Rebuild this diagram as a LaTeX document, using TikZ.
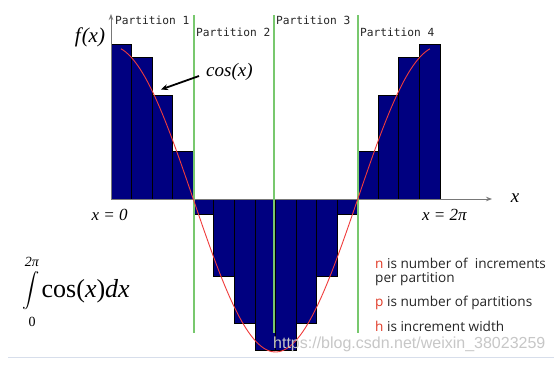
\documentclass[tikz,border=0pt]{standalone}
\usepackage{fontspec}
\usepackage{graphicx}
\usetikzlibrary{arrows.meta}
\newfontfamily\pmono{DejaVu Sans Mono}
\newfontfamily\pserif{Liberation Serif}
\newfontfamily\psans{Open Sans}
\newfontfamily\pwm{Liberation Sans}
\definecolor{barfill}{RGB}{0,0,128}
\definecolor{partgreen}{RGB}{120,200,110}
\definecolor{curvered}{RGB}{240,60,60}
\definecolor{letterred}{RGB}{225,60,40}
\definecolor{axisgray}{RGB}{120,120,120}
\tikzset{
  bar/.style={fill=barfill,draw=black,line width=0.8pt},
  partline/.style={draw=partgreen,line width=1.4pt},
  partlabel/.style={anchor=west,inner sep=0pt,font=\pmono\fontsize{11.2}{12}\selectfont,text=black!85},
  mathlabel/.style={inner sep=0pt,font=\pserif\itshape\fontsize{17}{20}\selectfont},
  notetext/.style={anchor=west,inner sep=0pt,font=\psans\fontsize{13.6}{15}\selectfont,text=black!85},
  axisline/.style={draw=axisgray,line width=0.9pt,-{Stealth[length=6pt,width=4.5pt]}}
}
\begin{document}
\begin{tikzpicture}[x=1pt,y=-1pt]
\useasboundingbox[fill=white] (0,0) rectangle (554,364);
% bars
\foreach \i/\h in {0/44,1/57.7,2/95,3/151,12/151,13/95,14/57.7,15/44}{
  \draw[bar] ({111+20.5625*\i},199) rectangle ({111+20.5625*(\i+1)},\h);
}
\foreach \i/\h in {4/214,5/276.7,6/323.3,7/350,8/350,9/323.3,10/276.7,11/214}{
  \draw[bar] ({111+20.5625*\i},199) rectangle ({111+20.5625*(\i+1)},\h);
}
% axes
\coordinate (origin) at (111,199);
\coordinate (ytip) at (111,14);
\coordinate (xtip) at (492,199);
\draw[axisline] (origin) -- (ytip);
\draw[axisline] (origin) -- (xtip);
% partition lines
\foreach \xx/\nm in {194/pa,274/pb,358/pc}{
  \coordinate (\nm top) at (\xx,15);
  \coordinate (\nm bot) at (\xx,333);
  \draw[partline] (\nm top) -- (\nm bot);
}
% curve
\draw[curvered,line width=0.9pt] plot[domain=0.19:6.09,samples=120,smooth] ({111+52.36*\x},{199-153*cos(\x r)});
% labels
\node[partlabel] (p1) at (115,20) {Partition 1};
\node[partlabel] (p2) at (196,32) {Partition 2};
\node[partlabel] (p3) at (276,20) {Partition 3};
\node[partlabel] (p4) at (360,32) {Partition 4};
\node[inner sep=0pt,font=\pserif\itshape\fontsize{21}{24}\selectfont] (fx) at (90,37) {f\kern1pt(x)};
\node[anchor=west,inner sep=0pt,font=\pserif\itshape\fontsize{19}{22}\selectfont] (cosl) at (206,72) {cos(x)};
\coordinate (cstart) at (199,76);
\coordinate (ctip) at (161,89.5);
\draw[line width=1.8pt,-{Stealth[length=7pt,width=6pt]}] (cstart) -- (ctip);
\node[mathlabel] (x0) at (109.7,215) {x = 0};
\node[mathlabel] (x2pi) at (444.3,215) {x = 2π};
\node[inner sep=0pt,font=\pserif\itshape\fontsize{19}{22}\selectfont] (xl) at (515,198) {x};
% integral
\node[inner sep=0pt] (intsign) at (31,291) {\scalebox{1.72}{$\displaystyle\int$}};
\node[inner sep=0pt,font=\pserif\itshape\fontsize{14}{16}\selectfont] (intup) at (32,261.5) {2π};
\node[inner sep=0pt,font=\pserif\fontsize{14}{16}\selectfont] (intlo) at (32,322) {0};
\node[anchor=west,inner sep=0pt,font=\pserif\fontsize{26}{30}\selectfont] (integrand) at (41.5,291.7) {cos(\textit{x})\textit{dx}};
% notes
\node[notetext] (n1) at (375,263.3) {\textcolor{letterred}{n} is number of\ \ increments};
\node[notetext] (n2) at (375,279) {per partition};
\node[notetext] (n3) at (375,302.7) {\textcolor{letterred}{p} is number of partitions};
\node[notetext] (n4) at (375,326) {\textcolor{letterred}{h} is increment width};
% watermark
\node[anchor=west,inner sep=0pt,font=\pwm\fontsize{16}{18}\selectfont,text=black!22] (wm) at (273,344) {https://blog.csdn.net/weixin\_38023259};
\coordinate (bl) at (8,357);
\coordinate (br) at (554,357);
\draw[draw={rgb,255:red,215;green,222;blue,235},line width=0.8pt] (bl) -- (br);
\end{tikzpicture}
\end{document}
